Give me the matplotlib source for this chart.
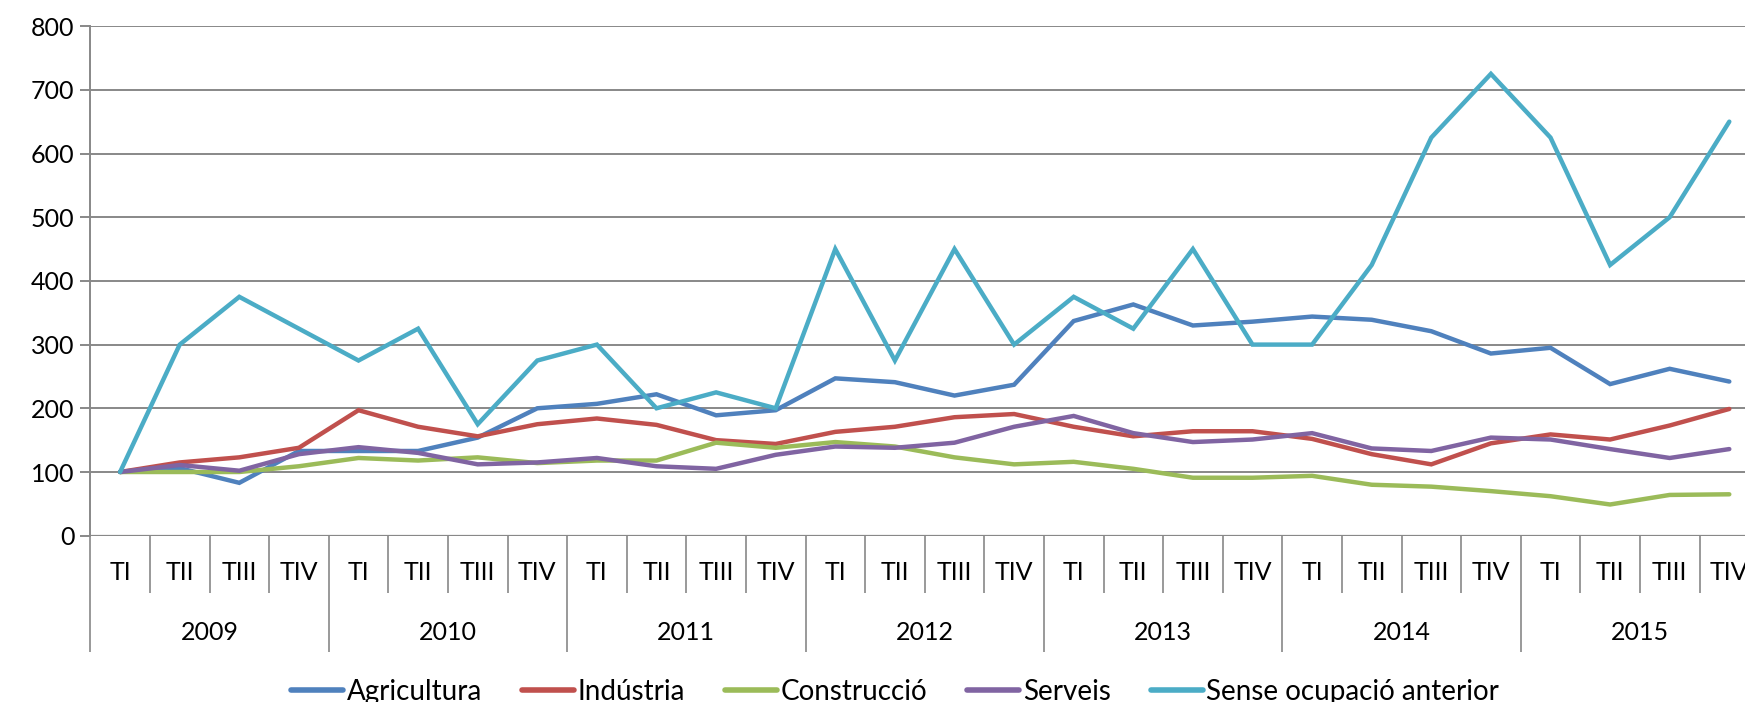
import matplotlib
matplotlib.use("Agg")
import matplotlib.pyplot as plt
import matplotlib.transforms as mtransforms

plt.rcParams['font.family'] = ['Lato', 'DejaVu Sans']

years = ["2009", "2010", "2011", "2012", "2013", "2014", "2015"]
quarters = ["TI", "TII", "TIII", "TIV"]

agricultura = [100, 106, 83, 133, 133, 133, 154, 200, 207, 222, 189, 197, 247, 241,
               220, 237, 337, 363, 330, 336, 344, 339, 321, 286, 295, 238, 262, 242]
industria = [100, 115, 123, 138, 197, 171, 156, 175, 184, 174, 150, 144, 163, 171,
             186, 191, 171, 156, 164, 164, 152, 128, 112, 145, 159, 151, 173, 199]
construccio = [100, 100, 100, 109, 122, 118, 123, 114, 118, 118, 146, 138, 147, 140,
               123, 112, 116, 105, 91, 91, 94, 80, 77, 70, 62, 49, 64, 65]
serveis = [100, 111, 102, 128, 139, 130, 112, 115, 122, 109, 105, 127, 140, 138,
           146, 171, 188, 161, 147, 151, 161, 137, 133, 154, 151, 136, 122, 136]
sense = [100, 300, 375, 325, 275, 325, 175, 275, 300, 200, 225, 200, 450, 275,
         450, 300, 375, 325, 450, 300, 300, 425, 625, 725, 625, 425, 500, 650]

series = [
    ("Agricultura", agricultura, "#4F81BD"),
    ("Indústria", industria, "#C0504D"),
    ("Construcció", construccio, "#9BBB59"),
    ("Serveis", serveis, "#8064A2"),
    ("Sense ocupació anterior", sense, "#4BACC6"),
]

W, H = 1745, 702
fig = plt.figure(figsize=(W / 100, H / 100), dpi=100)
ax_left = 90.3 / W
ax_w = 28 * 59.6 / W
ax_bottom = (H - 535.7) / H
ax_h = (535.7 - 26.1) / H
ax = fig.add_axes([ax_left, ax_bottom, ax_w, ax_h])

n = len(years) * len(quarters)
x = list(range(n))
for name, vals, col in series:
    ax.plot(x, vals, color=col, lw=3.2, label=name, solid_joinstyle='miter',
            solid_capstyle='round')

ax.set_xlim(-0.5, n - 0.5)
ax.set_ylim(0, 800)
ax.set_yticks(range(0, 801, 100))
grid_col = "#888888"
ax.yaxis.grid(True, color=grid_col, lw=1.4)
ax.set_axisbelow(True)
for s in ["top", "right", "bottom"]:
    ax.spines[s].set_visible(False)
ax.spines["left"].set_color(grid_col)
ax.spines["left"].set_linewidth(1.4)
ax.axhline(0, color=grid_col, lw=1.6, zorder=1)
ax.tick_params(axis='y', length=7.5, width=1.4, color=grid_col, labelsize=18,
               pad=4, labelcolor='black')

# category separators
major = [k - 0.5 for k in range(0, n + 1, 4)]
minor = [k - 0.5 for k in range(0, n + 1) if k % 4 != 0]
ax.set_xticks(major)
ax.set_xticks(minor, minor=True)
ax.set_xticklabels([])
ax.tick_params(axis='x', which='major', length=83.5, width=1.2, color=grid_col, direction='out')
ax.tick_params(axis='x', which='minor', length=41, width=1.2, color=grid_col, direction='out')

trans = mtransforms.blended_transform_factory(ax.transData, ax.transAxes)
qy = -37.0 / (535.7 - 26.1)
yy = -97.0 / (535.7 - 26.1)
for i in range(n):
    ax.text(i, qy, quarters[i % 4], transform=trans, ha='center', va='center',
            fontsize=18, clip_on=False)
for j, yr in enumerate(years):
    ax.text(j * 4 + 1.5, yy, yr, transform=trans, ha='center', va='center',
            fontsize=18, clip_on=False)

leg = fig.legend(loc='center', bbox_to_anchor=(0.513, 0.014), ncol=5, frameon=False,
                 fontsize=20, handlelength=1.87, handletextpad=0.12, columnspacing=1.45,
                 borderaxespad=0)
for h in leg.get_lines():
    h.set_linewidth(4.0)

fig.savefig("out.png", dpi=100)
